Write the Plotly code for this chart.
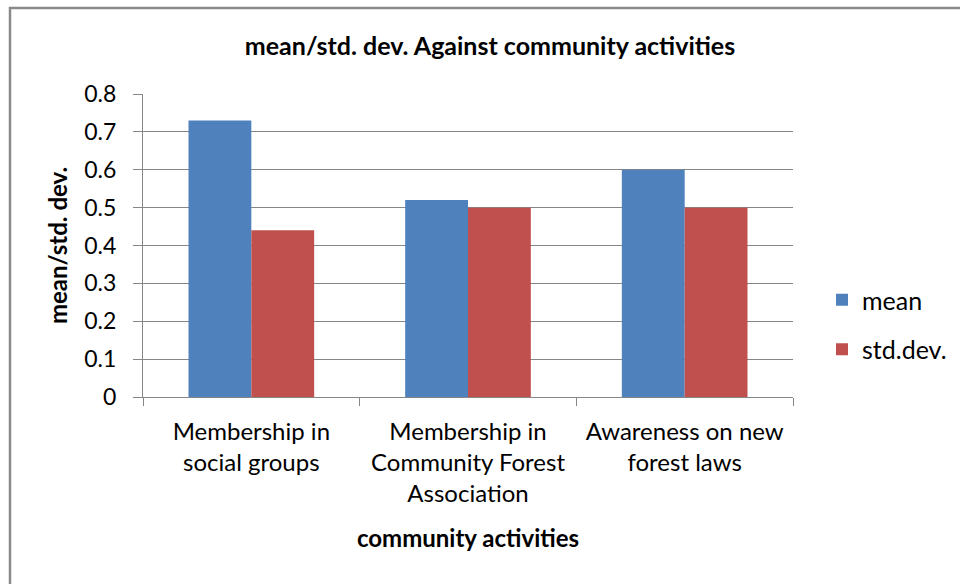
import plotly.graph_objects as go

categories = [
    "Membership in<br>social groups",
    "Membership in<br>Community Forest<br>Association",
    "Awareness on new<br>forest laws",
]
mean_values = [0.73, 0.52, 0.60]
std_values = [0.44, 0.50, 0.50]
y_ticks = [0, 0.1, 0.2, 0.3, 0.4, 0.5, 0.6, 0.7, 0.8]
y_tick_text = ["0", "0.1", "0.2", "0.3", "0.4", "0.5", "0.6", "0.7", "0.8"]

W, H = 960, 584
L, R, T, B = 143, 167, 94, 187
pw, ph = W - L - R, H - T - B

FONT = "Lato, Open Sans, sans-serif"
GRID = "#868686"

fig = go.Figure()
fig.add_trace(go.Bar(x=categories, y=mean_values, name="mean",
                     marker=dict(color="#4F81BD", line=dict(width=0)),
                     legendgroup="a"))
fig.add_trace(go.Bar(x=categories, y=std_values, name="std.dev.",
                     marker=dict(color="#C0504D", line=dict(width=0)),
                     legendgroup="b"))

def px_x(x):
    return (x - L) / pw

def px_y(y):
    return 1 - (y - T) / ph

fig.update_layout(
    width=W, height=H,
    margin=dict(l=L, r=R, t=T, b=B, autoexpand=False),
    paper_bgcolor="white", plot_bgcolor="white",
    barmode="group", bargap=0.42, bargroupgap=0,
    font=dict(family=FONT, color="#000000"),
    title=dict(text="<b>mean/std. dev. Against community activities</b>",
               x=490 / W, xref="container", xanchor="center",
               y=1 - 46 / H, yref="container", yanchor="middle",
               font=dict(size=25, family=FONT)),
    xaxis=dict(
        type="category", showgrid=False, showline=True, linecolor=GRID, linewidth=1,
        ticks="outside", tickson="boundaries", ticklen=8, tickcolor=GRID,
        tickfont=dict(size=24, family=FONT), ticklabelstandoff=13, automargin=False,
        title=dict(text="<b>community activities</b>", font=dict(size=24, family=FONT),
                   standoff=23),
    ),
    yaxis=dict(
        range=[0, 0.8], tickvals=y_ticks, ticktext=y_tick_text,
        showgrid=True, gridcolor=GRID, gridwidth=1,
        showline=True, linecolor=GRID, linewidth=1,
        ticks="outside", ticklen=9, tickcolor=GRID, automargin=False,
        tickfont=dict(size=23, family=FONT), zeroline=False, ticklabelstandoff=12,
        title=dict(text="<b>mean/std. dev.</b>", font=dict(size=24, family=FONT),
                   standoff=9),
    ),
    legend=dict(x=px_x(822), y=px_y(277), xanchor="left", yanchor="top",
                font=dict(size=25, family=FONT), tracegroupgap=14,
                bgcolor="rgba(0,0,0,0)"),
    shapes=[dict(type="rect", xref="paper", yref="paper",
                 x0=px_x(10), x1=px_x(975), y0=px_y(600), y1=px_y(8),
                 line=dict(color="#8a8a8a", width=2.5), fillcolor="rgba(0,0,0,0)",
                 layer="below")],
)

fig.write_html("out.html")
